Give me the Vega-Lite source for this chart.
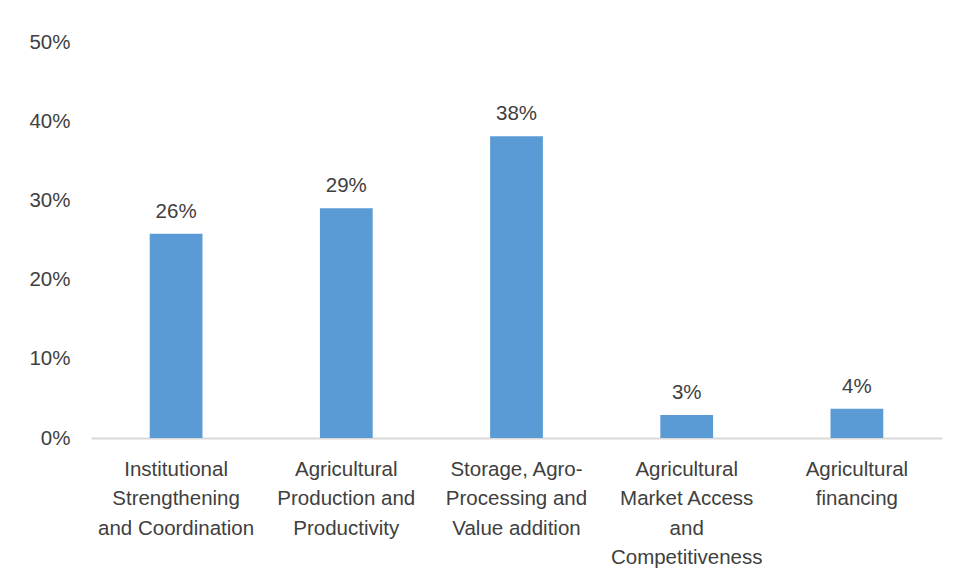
{
  "$schema": "https://vega.github.io/schema/vega-lite/v6.json",
  "autosize": "none",
  "width": 851,
  "height": 396,
  "padding": {"left": 91, "top": 42, "right": 15, "bottom": 143},
  "background": "white",
  "config": {
    "view": {"stroke": null},
    "font": "Liberation Sans",
    "text": {"font": "Liberation Sans"}
  },
  "data": {
    "values": [
      {"area": "Institutional|Strengthening|and Coordination", "share": 0.258},
      {"area": "Agricultural|Production and|Productivity", "share": 0.29},
      {"area": "Storage, Agro-|Processing and|Value addition", "share": 0.381},
      {"area": "Agricultural|Market Access|and|Competitiveness", "share": 0.029},
      {"area": "Agricultural|financing", "share": 0.037}
    ]
  },
  "encoding": {
    "x": {
      "field": "area",
      "type": "nominal",
      "sort": null,
      "scale": {"paddingInner": 0.69, "paddingOuter": 0.345},
      "axis": {
        "title": null,
        "labelAngle": 0,
        "labelExpr": "split(datum.label, '|')",
        "labelFontSize": 20.5,
        "labelColor": "#404040",
        "labelLineHeight": 29.5,
        "labelPadding": 21,
        "labelBaseline": "top",
        "ticks": false,
        "domainColor": "#d9d9d9",
        "domainWidth": 2,
        "labelLimit": 300
      }
    },
    "y": {
      "field": "share",
      "type": "quantitative",
      "scale": {"domain": [0, 0.5], "nice": false},
      "axis": {
        "title": null,
        "format": ".0%",
        "values": [0, 0.1, 0.2, 0.3, 0.4, 0.5],
        "grid": false,
        "domain": false,
        "ticks": false,
        "labelFontSize": 20.5,
        "labelColor": "#404040",
        "labelPadding": 21
      }
    }
  },
  "layer": [
    {"mark": {"type": "bar", "color": "#5b9bd5"}},
    {
      "mark": {"type": "text", "baseline": "bottom", "dy": -12, "fontSize": 20.5, "color": "#404040"},
      "encoding": {"text": {"field": "share", "type": "quantitative", "format": ".0%"}}
    }
  ]
}
